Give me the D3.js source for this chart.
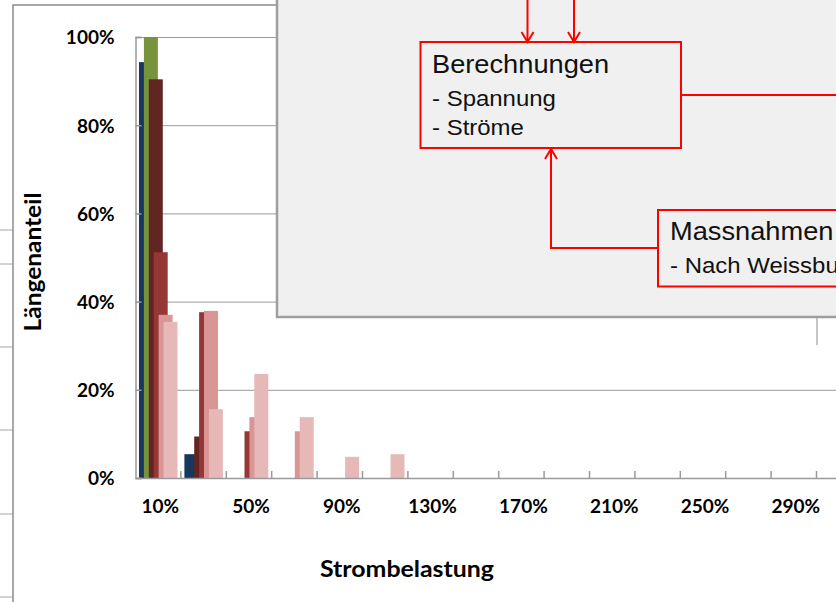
<!DOCTYPE html>
<html>
<head>
<meta charset="utf-8">
<script src="https://cdn.jsdelivr.net/npm/d3@7"></script>
<style>
  html, body { margin: 0; padding: 0; background: #ffffff; overflow: hidden; }
  svg { display: block; }
</style>
</head>
<body>
<svg id="chart" width="836" height="602"></svg>
<script>
// Strombelastung classes (every second one labelled on the axis)
const categories = ["10%", "30%", "50%", "70%", "90%", "110%", "130%", "150%",
                    "170%", "190%", "210%", "230%", "250%", "270%", "290%", "310%"];
const seriesKeys = ["Serie 1", "Serie 2", "Serie 3", "Serie 4", "Serie 5", "Serie 6"];

// Längenanteil per class, in percent
const serie1 = [94.3, 5.4, 0, 0, 0, 0, 0, 0, 0, 0, 0, 0, 0, 0, 0, 0];
const serie2 = [100, 0, 0, 0, 0, 0, 0, 0, 0, 0, 0, 0, 0, 0, 0, 0];
const serie3 = [90.4, 9.4, 0, 0, 0, 0, 0, 0, 0, 0, 0, 0, 0, 0, 0, 0];
const serie4 = [51.2, 37.6, 10.6, 0, 0, 0, 0, 0, 0, 0, 0, 0, 0, 0, 0, 0];
const serie5 = [37.0, 37.9, 13.8, 10.6, 0, 0, 0, 0, 0, 0, 0, 0, 0, 0, 0, 0];
const serie6 = [35.4, 15.6, 23.6, 13.8, 4.8, 5.4, 0, 0, 0, 0, 0, 0, 0, 0, 0, 0];
const seriesValues = [serie1, serie2, serie3, serie4, serie5, serie6];
const seriesColors = ["#17375E", "#77933C", "#632523", "#953735", "#D99694", "#E6B9B8"];

const yTicks = [0, 20, 40, 60, 80, 100];
const xLabelEvery = 2;

const svg = d3.select("#chart");
const W = 836, H = 602;

// ---- chart frame (outer border and neighbouring sheet cell lines) ----
const frame = svg.append("g");
frame.selectAll("line.cell").data([230, 264, 347, 430, 514, 597]).join("line")
  .attr("x1", 0).attr("x2", 13).attr("y1", d => d).attr("y2", d => d)
  .attr("stroke", "#A6A6A6").attr("stroke-width", 1);
frame.append("rect")
  .attr("x", 13).attr("y", 5).attr("width", 1000).attr("height", 1000)
  .attr("fill", "#ffffff").attr("stroke", "#8C8C8C").attr("stroke-width", 1.5);

// ---- plot geometry ----
const plot = { left: 135.5, top: 37, bottom: 478 };
const step = 45.4;
const x = d3.scaleBand().domain(categories)
  .range([plot.left, plot.left + step * categories.length]).padding(0);
const bw = x.bandwidth();
const barW = bw * 0.308;
const seriesPos = d3.scalePoint().domain(seriesKeys).range([bw * 0.077, bw * 0.077 + 5 * bw * 0.108]);
const y = d3.scaleLinear().domain([0, 100]).range([plot.bottom, plot.top]);
const plotRight = x.range()[1];

// gridlines
const grid = svg.append("g").attr("transform", `translate(${plot.left},0)`)
  .call(d3.axisLeft(y).tickValues(yTicks.filter(d => d > 0)).tickSize(-(plotRight - plot.left)).tickFormat(""));
grid.select(".domain").remove();
grid.selectAll(".tick line").attr("stroke", "#9A9A9A").attr("stroke-width", 1);

// bars: later series are drawn over earlier ones
const barsG = svg.append("g");
seriesKeys.forEach((key, si) => {
  barsG.append("g").selectAll("rect")
    .data(categories.map((c, i) => ({ c, v: seriesValues[si][i] })).filter(d => d.v > 0))
    .join("rect")
    .attr("x", d => x(d.c) + seriesPos(key))
    .attr("y", d => y(d.v))
    .attr("width", barW)
    .attr("height", d => y(0) - y(d.v))
    .attr("fill", seriesColors[si]);
});

// y axis with inside ticks
const fontChart = "Lato, 'Open Sans', sans-serif";
const yAxis = svg.append("g").attr("transform", `translate(${plot.left},0)`)
  .call(d3.axisLeft(y).tickValues(yTicks).tickSize(-6).tickPadding(21).tickFormat(d => d + "%"));
yAxis.select(".domain").attr("stroke", "#9A9A9A").attr("stroke-width", 1.5);
yAxis.selectAll(".tick line").attr("stroke", "#9A9A9A").attr("stroke-width", 1.5);
yAxis.selectAll(".tick text")
  .attr("font-family", fontChart).attr("font-weight", 700).attr("font-size", 19)
  .attr("fill", "#000").attr("dy", "0.36em");

// x axis: labels at class centres, tick marks at class borders
const xAxis = svg.append("g").attr("transform", `translate(0,${plot.bottom})`)
  .call(d3.axisBottom(x).tickSize(0).tickPadding(22)
    .tickFormat((d, i) => i % xLabelEvery === 0 ? d : ""));
xAxis.select(".domain").attr("stroke", "#9A9A9A").attr("stroke-width", 1.5);
xAxis.selectAll(".tick text")
  .attr("font-family", fontChart).attr("font-weight", 700).attr("font-size", 19)
  .attr("fill", "#000").attr("dx", 2);
xAxis.append("g").selectAll("line").data(categories).join("line")
  .attr("x1", d => x(d) + bw).attr("x2", d => x(d) + bw)
  .attr("y1", -7).attr("y2", 0)
  .attr("stroke", "#9A9A9A").attr("stroke-width", 1.5);

// axis titles
svg.append("text")
  .attr("x", 407).attr("y", 577).attr("text-anchor", "middle")
  .attr("font-family", fontChart).attr("font-weight", 700).attr("font-size", 23)
  .attr("textLength", 174).attr("lengthAdjust", "spacingAndGlyphs")
  .text("Strombelastung");
svg.append("text")
  .attr("transform", "translate(41,262) rotate(-90)").attr("text-anchor", "middle")
  .attr("font-family", fontChart).attr("font-weight", 700).attr("font-size", 23)
  .attr("textLength", 139).attr("lengthAdjust", "spacingAndGlyphs")
  .text("Längenanteil");

// ---- process diagram panel laid over the chart ----
const panel = svg.append("g");
panel.append("rect")
  .attr("x", 277).attr("y", -10).attr("width", 700).attr("height", 327)
  .attr("fill", "#F0F0F0").attr("stroke", "#9E9E9E").attr("stroke-width", 2.5);
panel.append("line")
  .attr("x1", 817).attr("x2", 817).attr("y1", 318).attr("y2", 345)
  .attr("stroke", "#9E9E9E").attr("stroke-width", 1.2);

const red = "#FF0000";
const arrowHead = (px, py, dir) => {
  const s = dir === "down" ? -1 : 1;
  return `M${px - 6},${py + s * 10}L${px},${py}L${px + 6},${py + s * 10}`;
};
const flow = panel.append("g").attr("fill", "none").attr("stroke", red).attr("stroke-width", 2);
// incoming arrows from above
[527.5, 574].forEach(px => {
  flow.append("path").attr("d", `M${px},-5L${px},42`);
  flow.append("path").attr("d", arrowHead(px, 42, "down"));
});
// Berechnungen box and its outgoing connector
flow.append("rect").attr("x", 420.5).attr("y", 42).attr("width", 260.5).attr("height", 106);
flow.append("path").attr("d", "M681,95L860,95");
// Massnahmen box and feedback arrow
flow.append("rect").attr("x", 658).attr("y", 210).attr("width", 300).attr("height", 76.5);
flow.append("path").attr("d", "M658,248L551,248L551,149");
flow.append("path").attr("d", arrowHead(551, 149, "up"));

const fontDiagram = "'Liberation Sans', Arial, sans-serif";
const diagramText = [
  { t: "Berechnungen", x: 432, y: 73, s: 25 },
  { t: "- Spannung", x: 432, y: 106, s: 22 },
  { t: "- Ströme", x: 432, y: 135, s: 22 },
  { t: "Massnahmen", x: 670, y: 240, s: 25 },
  { t: "- Nach Weissbuch", x: 670, y: 273, s: 22 }
];
panel.append("g").selectAll("text").data(diagramText).join("text")
  .attr("transform", d => `translate(${d.x},${d.y}) scale(1.09,1)`)
  .attr("font-family", fontDiagram).attr("font-size", d => d.s)
  .attr("fill", "#111").text(d => d.t);
</script>
</body>
</html>
